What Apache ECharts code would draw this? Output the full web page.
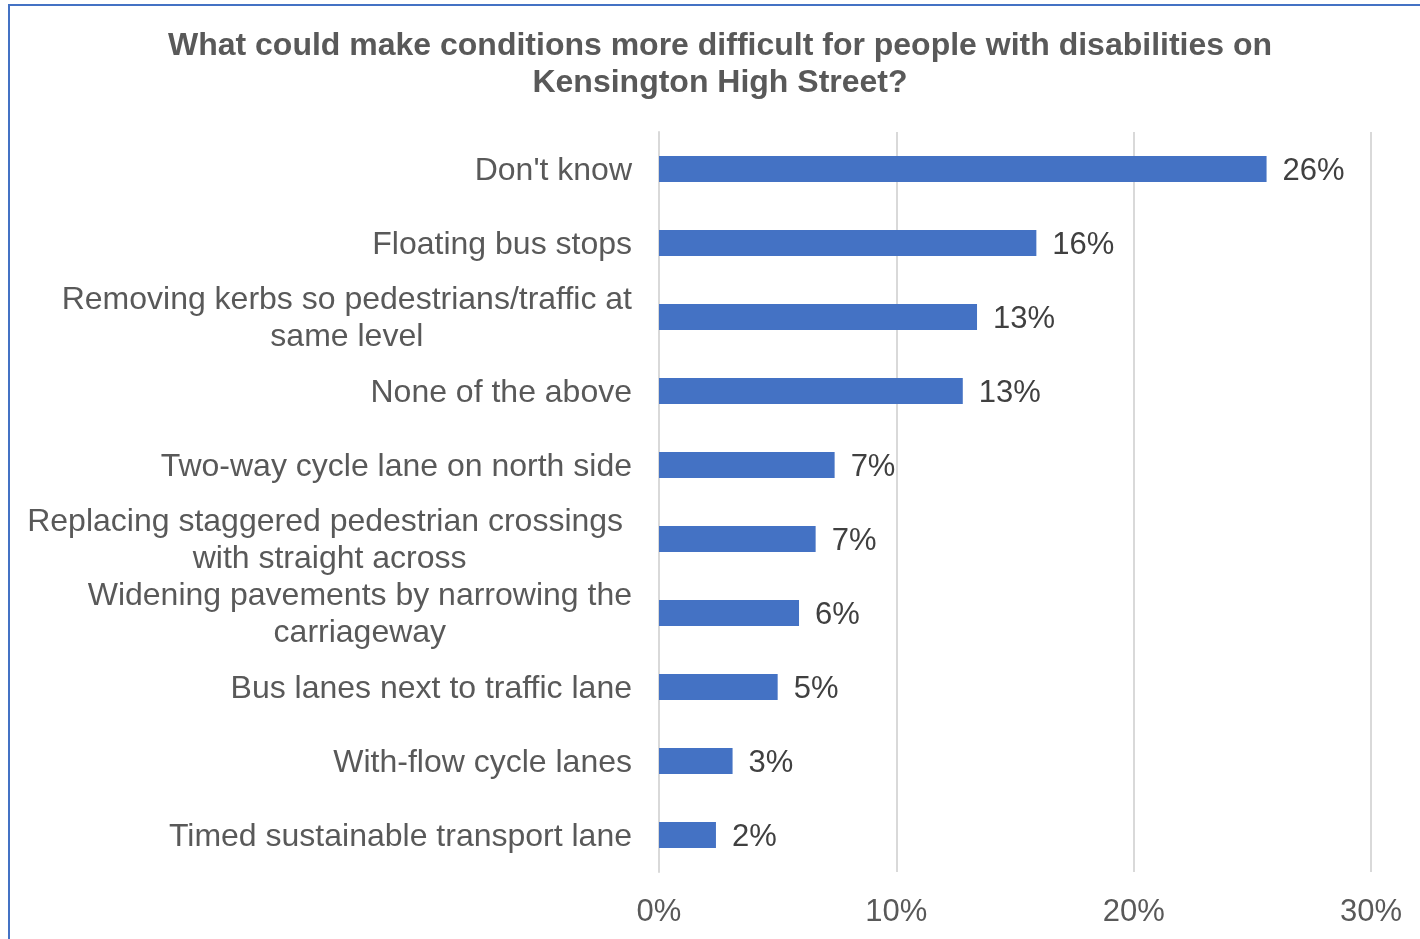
<!DOCTYPE html>
<html>
<head>
<meta charset="utf-8">
<script src="https://cdn.jsdelivr.net/npm/echarts@6/dist/echarts.min.js"></script>
<style>
  html, body { margin: 0; padding: 0; background: #ffffff; }
  #chart { position: absolute; left: 0; top: 0; width: 1420px; height: 939px; }
  #frame {
    position: absolute; left: 8px; top: 4px; width: 1500px; height: 1000px;
    border-left: 2px solid #4472C4; border-top: 2px solid #4472C4;
    pointer-events: none;
  }
</style>
</head>
<body>
<div id="chart"></div>
<div id="frame"></div>
<script>
// Survey responses (share of respondents, %)
const categories = [
  "Don't know",
  "Floating bus stops",
  "Removing kerbs so pedestrians/traffic at\nsame level",
  "None of the above",
  "Two-way cycle lane on north side",
  "Replacing staggered pedestrian crossings \nwith straight across",
  "Widening pavements by narrowing the\ncarriageway",
  "Bus lanes next to traffic lane",
  "With-flow cycle lanes",
  "Timed sustainable transport lane"
];
const shares = [25.6, 15.9, 13.4, 12.8, 7.4, 6.6, 5.9, 5.0, 3.1, 2.4];
const tickValues = [0, 10, 20, 30];

const FONT = '"Liberation Sans", Arial, sans-serif';
const chart = echarts.init(document.getElementById('chart'), null, { renderer: 'canvas' });

chart.setOption({
  backgroundColor: '#ffffff',
  animation: false,
  title: {
    text: 'What could make conditions more difficult for people with disabilities on\nKensington High Street?',
    left: 715,
    textAlign: 'center',
    top: 23,
    textStyle: {
      fontFamily: FONT, fontSize: 32, fontWeight: 'bold',
      color: '#595959', lineHeight: 37
    }
  },
  grid: { left: 659, right: 49, top: 132, bottom: 67, containLabel: false },
  xAxis: {
    type: 'value',
    min: tickValues[0],
    max: tickValues[tickValues.length - 1],
    interval: 10,
    axisLine: { show: false },
    axisTick: { show: false },
    splitLine: { show: true, lineStyle: { color: '#d9d9d9', width: 2 } },
    axisLabel: {
      margin: 25,
      fontFamily: FONT, fontSize: 31, color: '#595959',
      formatter: v => v + '%'
    }
  },
  yAxis: {
    type: 'category',
    data: categories,
    inverse: true,
    axisLine: { show: true, lineStyle: { color: '#d9d9d9', width: 2 } },
    axisTick: { show: false },
    axisLabel: {
      margin: 27,
      padding: [4, 0, 0, 0],
      fontFamily: FONT, fontSize: 32, color: '#595959', lineHeight: 37,
      formatter: v => v.split('\n').map(s => '{c|' + s + '}').join('\n'),
      rich: {
        c: { fontFamily: FONT, fontSize: 32, color: '#595959', lineHeight: 37, align: 'center' }
      }
    }
  },
  series: [{
    type: 'bar',
    data: shares,
    barWidth: 26,
    itemStyle: { color: '#4472C4' },
    label: {
      show: true,
      position: 'right',
      distance: 16,
      offset: [0, 2],
      fontFamily: FONT, fontSize: 31, color: '#404040',
      formatter: p => Math.round(p.value) + '%'
    }
  }]
});
</script>
</body>
</html>
